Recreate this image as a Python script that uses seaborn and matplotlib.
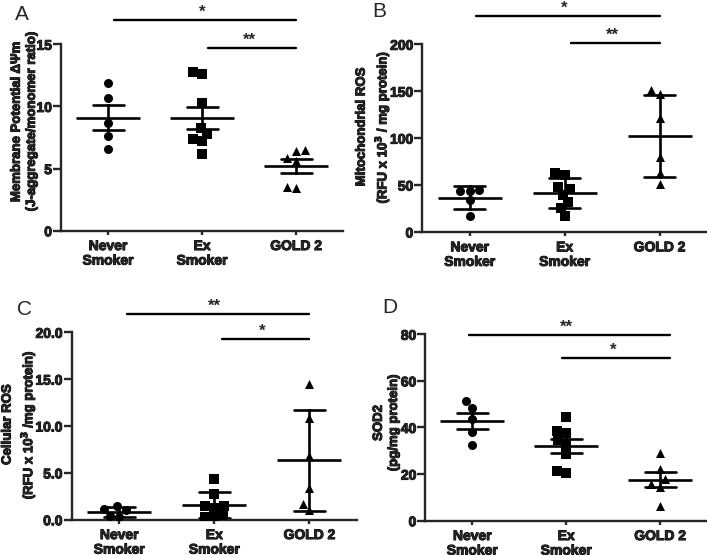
import numpy as np
import pandas as pd
import matplotlib.pyplot as plt
import matplotlib.patheffects as pe
import seaborn as sns

sns.set_style('ticks')
plt.rcParams['font.family'] = ['Liberation Sans', 'DejaVu Sans']
plt.rcParams['font.weight'] = 'bold'
plt.rcParams['axes.labelweight'] = 'bold'
plt.rcParams['mathtext.default'] = 'bf'

groups = ['Never\nSmoker', 'Ex\nSmoker', 'GOLD 2']
markers = ['o', 's', '^']

# A - membrane potential (mean +/- SEM)
a_never = [11.9, 10.7, 8.7, 7.6, 6.6]
a_ex = [12.6, 12.8, 10.3, 8.3, 7.8, 7.35, 7.2, 6.2]
a_gold = [5.85, 6.5, 6.4, 5.6, 3.4, 3.5]

# B - mitochondrial ROS (mean +/- SD)
b_never = [44.0, 44.2, 44.5, 34.0, 17.0]
b_ex = [62.6, 60.5, 48.0, 46.3, 39.9, 32.0, 25.6, 16.7]
b_gold = [151.0, 147.0, 121.0, 80.0, 63.0, 51.0]

# C - cellular ROS (mean +/- SD)
c_never = [1.45, 1.0, 1.1, 0.3, 0.35]
c_ex = [4.3, 2.7, 1.5, 1.5, 1.3, 0.5, 0.25, 0.25]
c_gold = [14.5, 10.8, 6.8, 3.35, 1.7, 1.0]

# D - SOD2 (mean +/- SEM)
d_never = [51.5, 48.5, 43.6, 38.2, 32.5]
d_ex = [44.5, 38.5, 37.5, 34.6, 32.5, 28.5, 21.3, 20.3]
d_gold = [28.9, 22.2, 17.9, 15.7, 14.6, 6.4]

letters = ['A', 'B', 'C', 'D']
errorbars = ['se', 'sd', 'sd', 'se']
ylabels = ['Membrane Potential \u0394\u03a8m\n(J-aggregate/monomer ratio)',
           'Mitochondrial ROS\n(RFU x 10$^{3}$ / mg protein)',
           'Cellular ROS\n(RFU x 10$^{3}$ /mg protein)',
           'SOD2\n(pg/mg protein)']
yticks = [[0, 5, 10, 15], [0, 50, 100, 150, 200], [0, 5, 10, 15, 20], [0, 20, 40, 60, 80]]
ytick_fmt = ['{:.0f}', '{:.0f}', '{:.1f}', '{:.0f}']
# significance: (group i, group j, stars)
sig_a = [(0, 2, '*'), (1, 2, '**')]
sig_b = [(0, 2, '*'), (1, 2, '**')]
sig_c = [(0, 2, '**'), (1, 2, '*')]
sig_d = [(0, 2, '**'), (1, 2, '*')]

all_data = [[a_never, a_ex, a_gold], [b_never, b_ex, b_gold],
            [c_never, c_ex, c_gold], [d_never, d_ex, d_gold]]
all_sig = [sig_a, sig_b, sig_c, sig_d]

# layout
rects = [[0.0863, 0.5843, 0.399, 0.3359], [0.5973, 0.582, 0.4027, 0.3382],
         [0.1014, 0.0636, 0.4035, 0.3377], [0.6016, 0.0618, 0.3985, 0.3359]]
sig_heights = [[16.95, 14.7], [230.5, 201.7], [21.96, 19.29], [79.9, 69.8]]
sig_xpad = [(0.06, 0.0), (0.07, 0.0), (0.08, 0.0), (-0.04, 0.1)]
label_xy = [(-0.082, 0.585), (-0.106, 0.56), (-0.118, 0.508), (-0.09, 0.524)]
letter_xy = [(0.021, 0.964), (0.526, 0.969), (0.024, 0.432), (0.540, 0.436)]

heavy = [pe.withStroke(linewidth=0.7, foreground='black')]

fig = plt.figure(figsize=(7.07, 5.55), dpi=100)

for k in range(4):
    vals = all_data[k]
    df = pd.DataFrame({'group': np.repeat(groups, [len(v) for v in vals]),
                       'value': np.concatenate(vals)})
    ax = fig.add_axes(rects[k])
    for g, m in zip(groups, markers):
        sns.swarmplot(data=df[df['group'] == g], x='group', y='value', order=groups,
                      marker=m, color='black', size=6.5, ax=ax)
    sns.pointplot(data=df, x='group', y='value', order=groups, errorbar=errorbars[k],
                  capsize=0.33, color='black', linestyle='none', marker='_',
                  markersize=46, markeredgewidth=1.9, err_kws={'linewidth': 1.9}, ax=ax)

    ax.set_xlim(-0.5, 2.5)
    ax.set_ylim(yticks[k][0], yticks[k][-1])
    ax.set_yticks(yticks[k], labels=[ytick_fmt[k].format(t) for t in yticks[k]])
    ax.set_xlabel('')
    ax.set_ylabel(ylabels[k], fontsize=9.5, fontweight='bold', linespacing=1.35)
    ax.yaxis.label.set_path_effects(heavy)
    ax.yaxis.set_label_coords(*label_xy[k])
    sns.despine(ax=ax)
    for s in ['left', 'bottom']:
        ax.spines[s].set_linewidth(1.7)
    ax.tick_params(axis='y', width=1.7, length=5.5, pad=1, labelsize=10)
    ax.tick_params(axis='x', width=1.7, length=3, pad=3, labelsize=10)
    for t in ax.get_xticklabels() + ax.get_yticklabels():
        t.set_fontweight('bold')
        t.set_path_effects(heavy)
    for t in ax.get_xticklabels():
        t.set_linespacing(1.05)

    for (i, j, stars), h in zip(all_sig[k], sig_heights[k]):
        ax.plot([i + sig_xpad[k][0], j + sig_xpad[k][1]], [h, h], color='black',
                lw=1.7, clip_on=False)
        ax.text((i + j) / 2, h, stars, ha='center', va='bottom', fontsize=12,
                fontweight='bold', clip_on=False)

    fig.text(letter_xy[k][0], letter_xy[k][1], letters[k], fontsize=15,
             fontweight='normal', va='baseline')

fig.savefig('out.png', dpi=100)
